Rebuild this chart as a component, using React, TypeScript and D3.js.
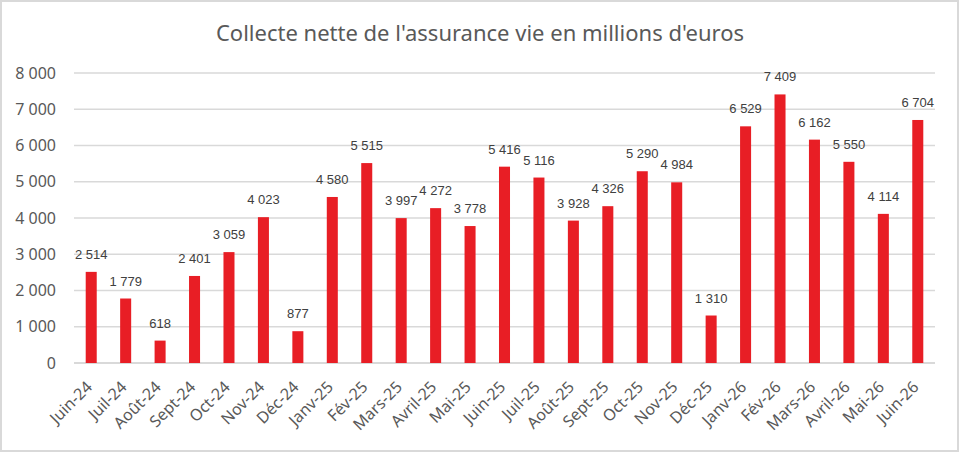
import React from "react";
import * as d3 from "d3";

const categories = ["Juin-24","Juil-24","Août-24","Sept-24","Oct-24","Nov-24","Déc-24","Janv-25","Fév-25","Mars-25","Avril-25","Mai-25","Juin-25","Juil-25","Août-25","Sept-25","Oct-25","Nov-25","Déc-25","Janv-26","Fév-26","Mars-26","Avril-26","Mai-26","Juin-26"];
const values = [2514,1779,618,2401,3059,4023,877,4580,5515,3997,4272,3778,5416,5116,3928,4326,5290,4984,1310,6529,7409,6162,5550,4114,6704];
const yTicks = [0,1000,2000,3000,4000,5000,6000,7000,8000];
const title = "Collecte nette de l'assurance vie en millions d'euros";

const W = 959, H = 452;
const left = 74, right = 935, top = 73, bottom = 363;
const font = "'Noto Sans', 'Open Sans', sans-serif";
const labelFont = "'Liberation Sans', Arial, sans-serif";
const fmt = (v: number) => d3.format(",")(v).replace(/,/g, " ");

export default function App() {
  const x = d3.scaleBand<string>().domain(categories).range([left, right]).paddingInner(0.68).paddingOuter(0.34);
  const y = d3.scaleLinear().domain([0, 8000]).range([bottom, top]);
  return (
    <svg width={W} height={H} style={{ position: "absolute", left: 0, top: 0, background: "#fff" }} fontFamily={font}>
      <rect x={1} y={1} width={W - 2} height={H - 2} fill="#fff" stroke="#d9d9d9" strokeWidth={2} />
      <text x={480} y={41} textAnchor="middle" fontSize={22} fill="#595959">{title}</text>
      {yTicks.map((t) => (
        <g key={t}>
          <line x1={left} x2={right} y1={y(t)} y2={y(t)} stroke="#d9d9d9" strokeWidth={t === 0 ? 2 : 1.5} />
          <text x={56} y={y(t)} dy="0.35em" textAnchor="end" fontSize={16} fill="#595959">{fmt(t)}</text>
        </g>
      ))}
      {categories.map((c, i) => {
        const bx = x(c)!;
        const cx = bx + x.bandwidth() / 2;
        return (
          <g key={c}>
            <rect x={bx} y={y(values[i])} width={x.bandwidth()} height={bottom - y(values[i])} fill="#e81e25" />
            <text x={cx} y={y(values[i]) - 13} textAnchor="middle" fontFamily={labelFont} fontSize={13} fill="#404040">{fmt(values[i])}</text>
            <text transform={`translate(${cx - 2},${bottom + 21}) rotate(-45)`} textAnchor="end" dy="0.35em" fontSize={16} fill="#595959">{c}</text>
          </g>
        );
      })}
    </svg>
  );
}
